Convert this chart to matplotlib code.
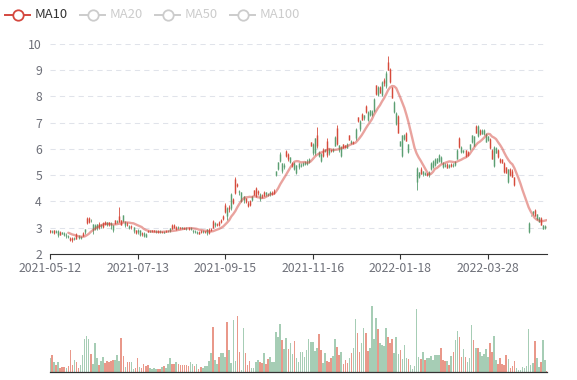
import matplotlib
matplotlib.use('Agg')
import matplotlib.pyplot as plt
import numpy as np
import pandas as pd

plt.rcParams['font.family'] = ['Noto Sans CJK SC', 'DejaVu Sans']

# ---- data ----
tick_labels = ['2021-05-12', '2021-07-13', '2021-09-15', '2021-11-16', '2022-01-18', '2022-03-28']
tick_step = 43
legend_names = ['MA10', 'MA20', 'MA50', 'MA100']

opens = [
    2.90, 2.84, 2.90, 2.84, 2.72, 2.84, 2.78, 2.72, 2.70, 2.64,
    2.62, 2.60, 2.58, 2.76, 2.62, 2.60, 2.80, 2.84, 3.36, 3.38,
    3.28, 2.90, 2.96, 2.98, 3.14, 3.06, 3.18, 3.20, 3.12, 3.20,
    3.12, 2.92, 3.28, 3.22, 3.45, 3.28, 3.24, 3.10, 3.16, 3.00,
    3.06, 2.86, 2.90, 2.82, 2.74, 2.80, 2.70, 2.66, 2.88, 2.85,
    2.90, 2.92, 2.84, 2.86, 2.82, 2.85, 2.81, 2.88, 2.86, 2.88,
    3.10, 3.12, 3.04, 3.00, 3.02, 2.98, 3.00, 2.96, 2.98, 2.94,
    2.86, 2.84, 2.80, 2.82, 2.86, 2.84, 2.86, 2.80, 2.92, 2.96,
    3.24, 3.10, 3.16, 3.22, 3.30, 3.46, 3.88, 3.45, 3.80, 3.75,
    4.10, 4.85, 4.68, 4.36, 4.02, 4.05, 4.12, 3.96, 4.02, 4.04,
    4.42, 4.50, 4.40, 4.08, 4.25, 4.38, 4.28, 4.26, 4.28, 4.34,
    4.40, 5.00, 5.25, 5.55, 5.15, 5.30, 5.94, 5.80, 5.50, 5.48,
    5.25, 5.10, 5.30, 5.35, 5.38, 5.42, 5.44, 5.50, 6.25, 5.84,
    5.85, 6.55, 5.75, 5.55, 5.95, 5.92, 6.30, 5.85, 5.98, 5.93,
    6.12, 6.80, 5.95, 5.75, 6.18, 6.14, 6.05, 6.52, 6.24, 6.28,
    6.40, 7.20, 6.75, 7.35, 7.18, 7.65, 7.10, 7.28, 7.30, 7.45,
    8.42, 8.05, 8.35, 8.05, 8.62, 8.40, 9.30, 9.05, 8.35, 7.42,
    6.95, 7.25, 6.12, 5.75, 6.38, 6.62, 5.88, 5.30, 4.77, 4.45,
    4.75, 4.95, 5.25, 5.05, 5.02, 5.08, 5.02, 5.22, 5.30, 5.40,
    5.48, 5.55, 5.50, 5.30, 5.34, 5.42, 5.30, 5.42, 5.34, 5.38,
    5.62, 6.42, 5.88, 5.90, 5.95, 5.90, 6.00, 6.25, 6.12, 6.86,
    6.48, 6.72, 6.58, 6.58, 6.28, 6.34, 6.38, 5.98, 5.35, 5.86,
    5.98, 5.62, 5.60, 5.48, 5.30, 4.75, 5.25, 5.18, 4.92, 4.16,
    3.74, 3.37, 3.05, 2.90, 2.80, 2.85, 3.45, 3.55, 3.68, 3.32,
    3.22, 3.38, 2.97, 2.98, 3.08,
]
closes = [
    2.85, 2.88, 2.80, 2.88, 2.88, 2.74, 2.82, 2.80, 2.74, 2.70,
    2.52, 2.55, 2.60, 2.58, 2.70, 2.66, 2.70, 2.94, 3.18, 3.22,
    3.30, 3.15, 3.12, 3.14, 3.02, 3.12, 3.04, 3.16, 3.20, 3.14,
    3.18, 3.10, 3.18, 3.24, 3.22, 3.12, 3.48, 3.20, 3.12, 3.08,
    3.02, 3.02, 2.80, 2.90, 2.90, 2.76, 2.80, 2.78, 2.84, 2.88,
    2.86, 2.87, 2.88, 2.84, 2.86, 2.82, 2.85, 2.84, 2.88, 2.98,
    2.96, 3.00, 2.94, 3.04, 2.98, 3.02, 2.96, 3.00, 2.96, 3.00,
    2.90, 2.88, 2.84, 2.78, 2.82, 2.86, 2.84, 2.94, 2.80, 2.92,
    3.00, 3.18, 3.10, 3.12, 3.22, 3.32, 3.60, 3.75, 3.70, 4.30,
    3.95, 4.32, 4.58, 4.40, 4.36, 4.20, 3.98, 3.84, 3.86, 4.20,
    4.26, 4.20, 4.32, 4.30, 4.20, 4.22, 4.36, 4.28, 4.36, 4.30,
    4.34, 5.16, 5.50, 5.82, 5.45, 5.40, 5.72, 5.60, 5.68, 5.35,
    5.48, 5.38, 5.45, 5.40, 5.48, 5.50, 5.52, 5.60, 6.12, 6.20,
    6.40, 6.10, 5.90, 5.82, 5.75, 5.96, 5.78, 6.00, 5.92, 6.00,
    6.45, 6.20, 6.14, 6.08, 6.04, 6.06, 6.20, 6.36, 6.32, 6.22,
    6.78, 7.05, 7.08, 7.12, 7.28, 7.40, 7.42, 7.48, 7.46, 7.92,
    8.08, 8.38, 8.15, 8.55, 8.50, 8.90, 9.02, 8.55, 7.95, 7.80,
    7.38, 6.62, 6.30, 6.52, 6.55, 6.32, 6.18, 5.30, 4.77, 4.45,
    5.28, 5.12, 5.05, 5.15, 5.10, 5.00, 5.12, 5.45, 5.55, 5.62,
    5.64, 5.78, 5.70, 5.48, 5.40, 5.28, 5.38, 5.36, 5.40, 5.52,
    5.98, 6.08, 6.08, 5.95, 5.72, 5.78, 6.18, 6.52, 6.48, 6.62,
    6.88, 6.58, 6.74, 6.72, 6.58, 6.48, 6.05, 5.62, 6.08, 6.05,
    5.68, 5.50, 5.47, 5.12, 5.10, 5.22, 5.00, 4.95, 4.62, 4.16,
    3.74, 3.37, 3.05, 2.90, 2.80, 3.18, 3.45, 3.62, 3.45, 3.52,
    3.40, 3.12, 3.10, 3.08, 3.00,
]
lows = [
    2.80, 2.80, 2.77, 2.80, 2.66, 2.72, 2.75, 2.69, 2.62, 2.60,
    2.50, 2.47, 2.55, 2.56, 2.58, 2.56, 2.69, 2.77, 3.15, 3.18,
    3.20, 2.75, 2.90, 2.92, 2.94, 3.00, 3.00, 3.10, 3.06, 3.08,
    2.97, 2.85, 3.15, 3.18, 3.20, 3.10, 3.20, 3.03, 3.05, 2.95,
    2.96, 2.81, 2.78, 2.77, 2.69, 2.68, 2.63, 2.63, 2.82, 2.82,
    2.85, 2.85, 2.80, 2.80, 2.80, 2.80, 2.80, 2.82, 2.84, 2.85,
    2.95, 2.98, 2.92, 2.96, 2.94, 2.95, 2.94, 2.93, 2.93, 2.90,
    2.80, 2.80, 2.75, 2.75, 2.80, 2.80, 2.80, 2.73, 2.77, 2.88,
    2.98, 3.04, 3.05, 3.06, 3.18, 3.30, 3.55, 3.30, 3.60, 3.68,
    3.90, 4.29, 4.56, 4.25, 3.98, 3.95, 3.95, 3.80, 3.82, 4.00,
    4.25, 4.18, 4.25, 4.00, 4.15, 4.20, 4.22, 4.22, 4.20, 4.26,
    4.30, 4.98, 5.20, 5.52, 5.10, 5.25, 5.70, 5.55, 5.46, 5.33,
    5.20, 5.05, 5.22, 5.30, 5.34, 5.40, 5.40, 5.45, 6.10, 5.78,
    5.78, 6.04, 5.71, 5.50, 5.71, 5.90, 5.70, 5.78, 5.90, 5.90,
    6.10, 6.17, 5.90, 5.71, 6.03, 6.05, 6.03, 6.33, 6.20, 6.20,
    6.35, 7.03, 6.70, 7.10, 7.12, 7.38, 7.05, 7.24, 7.26, 7.40,
    8.05, 8.00, 8.13, 8.00, 8.40, 8.32, 9.00, 8.53, 7.94, 7.38,
    6.90, 6.60, 6.10, 5.70, 6.35, 6.30, 5.85, 5.30, 4.77, 4.45,
    4.45, 4.90, 5.03, 4.98, 5.00, 4.96, 4.95, 5.20, 5.27, 5.35,
    5.45, 5.50, 5.45, 5.28, 5.30, 5.26, 5.28, 5.32, 5.30, 5.35,
    5.60, 6.05, 5.85, 5.86, 5.70, 5.75, 5.97, 6.22, 6.10, 6.60,
    6.45, 6.55, 6.56, 6.55, 6.25, 6.32, 6.00, 5.60, 5.30, 5.84,
    5.65, 5.48, 5.45, 5.10, 5.08, 4.70, 4.98, 4.92, 4.60, 4.16,
    3.74, 3.37, 3.05, 2.90, 2.80, 2.80, 3.45, 3.50, 3.45, 3.30,
    3.20, 3.10, 2.95, 2.95, 2.97,
]
highs = [
    2.92, 2.90, 2.93, 2.90, 2.90, 2.86, 2.85, 2.85, 2.80, 2.74,
    2.65, 2.65, 2.64, 2.81, 2.72, 2.68, 2.85, 2.96, 3.41, 3.42,
    3.35, 3.15, 3.14, 3.15, 3.20, 3.16, 3.20, 3.24, 3.22, 3.22,
    3.20, 3.10, 3.30, 3.28, 3.80, 3.30, 3.50, 3.24, 3.20, 3.10,
    3.10, 3.04, 2.93, 2.94, 2.92, 2.85, 2.82, 2.80, 2.92, 2.90,
    2.92, 2.93, 2.90, 2.90, 2.92, 2.87, 2.87, 2.90, 2.92, 3.00,
    3.15, 3.14, 3.08, 3.06, 3.04, 3.04, 3.02, 3.02, 3.02, 3.02,
    2.92, 2.90, 2.86, 2.87, 2.90, 2.90, 2.88, 2.97, 2.98, 3.00,
    3.30, 3.20, 3.19, 3.27, 3.34, 3.50, 3.95, 3.78, 3.85, 4.33,
    4.15, 4.94, 4.70, 4.45, 4.37, 4.22, 4.15, 4.00, 4.05, 4.22,
    4.45, 4.56, 4.45, 4.32, 4.30, 4.40, 4.38, 4.34, 4.40, 4.40,
    4.46, 5.18, 5.52, 5.87, 5.47, 5.48, 5.97, 5.85, 5.71, 5.52,
    5.50, 5.40, 5.48, 5.45, 5.50, 5.55, 5.60, 5.65, 6.27, 6.24,
    6.43, 6.85, 5.92, 5.85, 6.03, 6.00, 6.40, 6.03, 6.00, 6.02,
    6.50, 6.92, 6.16, 6.10, 6.20, 6.16, 6.22, 6.55, 6.35, 6.30,
    6.80, 7.23, 7.10, 7.38, 7.30, 7.68, 7.43, 7.50, 7.50, 7.95,
    8.45, 8.40, 8.39, 8.58, 8.70, 8.96, 9.55, 9.10, 8.38, 7.82,
    7.40, 7.30, 6.32, 6.55, 6.57, 6.65, 6.20, 5.30, 4.77, 4.45,
    5.30, 5.14, 5.30, 5.18, 5.12, 5.10, 5.15, 5.50, 5.59, 5.65,
    5.65, 5.80, 5.72, 5.50, 5.45, 5.45, 5.42, 5.45, 5.45, 5.55,
    6.00, 6.45, 6.10, 5.98, 5.97, 5.94, 6.20, 6.54, 6.50, 6.90,
    6.90, 6.75, 6.76, 6.75, 6.60, 6.50, 6.40, 6.00, 6.10, 6.07,
    6.00, 5.65, 5.62, 5.50, 5.33, 5.25, 5.27, 5.22, 4.95, 4.16,
    3.74, 3.37, 3.05, 2.90, 2.80, 3.20, 3.47, 3.65, 3.70, 3.53,
    3.40, 3.40, 3.10, 3.10, 3.10,
]
volumes = [
    14, 16.7, 10, 7.3, 10.3, 4, 5.3, 5.3, 4.3, 6.3,
    22.3, 7, 11.7, 10, 3.7, 6.7, 17.3, 33.3, 35.7, 33.3,
    18, 8.3, 29.3, 13.7, 7, 10.7, 15, 9, 11.3, 10,
    11, 12.3, 11.7, 17, 11.3, 34, 16.3, 4.7, 9.7, 9.7,
    10.3, 3, 3.7, 13.7, 5.3, 4.3, 7.7, 6.3, 6.7, 4,
    3.3, 4, 3.3, 3.3, 3.3, 5, 6, 4.3, 8.3, 14,
    8.3, 8, 10.3, 8.3, 7.3, 7, 7, 7, 5.7, 10,
    8.3, 6.3, 8.3, 3.3, 4.7, 3.7, 6.3, 6.3, 11, 19.3,
    45.3, 11.7, 8.3, 15.3, 19, 19, 14.7, 50.3, 22.3, 8.7,
    52.3, 11.3, 56, 20.3, 2.3, 44.3, 19, 7, 11, 4,
    4, 10, 12.3, 10, 8.7, 19, 8.3, 13, 15, 10,
    10, 40.3, 35.3, 48.3, 32.3, 23.3, 34, 23.3, 29, 18.3,
    31.3, 14, 10.3, 20, 20, 14.7, 22, 33, 30.3, 30,
    21.3, 24, 37.7, 22.3, 9, 19.3, 11.3, 9.7, 14, 16.3,
    33.3, 25.3, 17, 20.3, 8.3, 12, 9.3, 14, 19, 24.3,
    53, 39.3, 20.3, 29, 44.3, 39.3, 21.3, 24, 66, 33.3,
    53.7, 43.3, 29, 26.7, 25.7, 44, 34.7, 29, 33.3, 18.7,
    35.3, 18.3, 22.3, 13.3, 27.3, 14, 13.3, 7.3, 2.7, 6,
    63.3, 15, 12.7, 20.3, 12.3, 14.3, 14, 16.3, 12, 17.3,
    17.3, 16.7, 24.3, 11.7, 11.3, 11.3, 6.7, 16, 20.3, 32.3,
    41, 35, 15.3, 23, 15.3, 9.7, 13.7, 46.7, 32, 24.3,
    24, 20.3, 16, 18, 23.3, 15, 29, 20.3, 36.3, 11.7,
    8.3, 14.3, 8, 7.3, 17.3, 13.3, 4.3, 5.7, 11.3, 3.7,
    2.3, 1.7, 5.3, 4, 6.3, 43, 7.3, 9, 30.7, 14,
    5, 10.3, 32.3, 12.3, 1.3,
]
# colour of each volume bar as seen in the lower panel: g = up, r = down
vol_colors = (
    "grgrgrrrgr" "rrgrrggggg" "rgggrggrrr" "rrgggrrgrr" "ggrrgrrrrg"
    "gggrrgrggg" "rrgrrrrrrg" "grgrrggggg" "rggrgggrgg" "ggrrggrrrg"
    "gggrrgrrgg" "ggggrggrgg" "rggggggggg" "ggrrggrrrg" "grrgrrrgrg"
    "grrggrrggg" "grggggrrrg" "ggrgggrggg" "ggrgrggggg" "ggrrrgrgrg"
    "grrgrgggrg" "rgggggrrgg" "rrrrrgrrrg" "ggggggggrg" "grggr"
)

UP, DOWN = '#5b9f72', '#d64a3b'
VOL_UP, VOL_DOWN = '#a6cdb5', '#e9988a'
MA_COLOR = '#d4483f'
LABEL = '#6e7079'
AXIS = '#333333'

W, H = 577, 380
fig = plt.figure(figsize=(W / 100, H / 100), dpi=100)


def box(l, t, r, b):
    return [l / W, 1 - b / H, (r - l) / W, (b - t) / H]


x = np.arange(len(closes))
o = np.array(opens)
c = np.array(closes)
lo = np.array(lows)
hi = np.array(highs)
n = len(x)

# ---- price panel ----
ax = fig.add_axes(box(50, 44, 547, 254))
ax.set_xlim(0, n - 1)
ax.set_ylim(2, 10)
for v in range(3, 11):
    ax.axhline(v, color='#e0e3ea', lw=0.75, dashes=(5, 4), zorder=0)

up = c >= o
col = np.where(up, UP, DOWN)
ax.vlines(x, lo, hi, colors=col, lw=0.6, zorder=2)
ax.vlines(x, np.minimum(o, c), np.maximum(o, c), colors=col, lw=1.05, zorder=2)

ma10 = pd.Series(closes).rolling(10).mean()
ax.plot(x, ma10, color=MA_COLOR, alpha=0.5, lw=1.7, zorder=3, solid_capstyle='round')

for s in ['top', 'right', 'left']:
    ax.spines[s].set_visible(False)
ax.spines['bottom'].set_color(AXIS)
ax.spines['bottom'].set_linewidth(0.8)
ax.set_yticks(range(2, 11))
ax.tick_params(axis='y', length=0, pad=5.8, labelsize=8.8, labelcolor=LABEL)
ticks = list(range(0, n, tick_step))
ax.set_xticks(ticks)
ax.set_xticklabels(tick_labels[:len(ticks)])
ax.tick_params(axis='x', length=3.6, width=0.8, color=AXIS, pad=2.5,
               labelsize=8.8, labelcolor=LABEL)

# ---- volume panel ----
axv = fig.add_axes(box(50, 302, 547, 372))
axv.set_xlim(0, n - 1)
axv.set_ylim(0, 70)
vcol = [VOL_UP if ch == 'g' else VOL_DOWN for ch in vol_colors]
axv.bar(x, volumes, width=0.78, color=vcol, linewidth=0)
for s in ['top', 'right', 'left']:
    axv.spines[s].set_visible(False)
axv.spines['bottom'].set_color(AXIS)
axv.spines['bottom'].set_linewidth(0.9)
axv.set_xticks([])
axv.set_yticks([])

# ---- legend ----
lg = fig.add_axes([0, 0, 1, 1])
lg.set_xlim(0, W)
lg.set_ylim(H, 0)
lg.axis('off')
x0 = 5
for i, name in enumerate(legend_names):
    colr = MA_COLOR if i == 0 else '#cccccc'
    tcol = '#333333' if i == 0 else '#cccccc'
    lg.plot([x0, x0 + 25], [15, 15], color=colr, lw=1.4)
    lg.plot([x0 + 12.5], [15], marker='o', ms=7.5, mfc='white', mec=colr, mew=1.3)
    lg.text(x0 + 30, 15, name, color=tcol, fontsize=9.4, va='center', ha='left')
    x0 += 75

fig.savefig('out.png', dpi=100)
